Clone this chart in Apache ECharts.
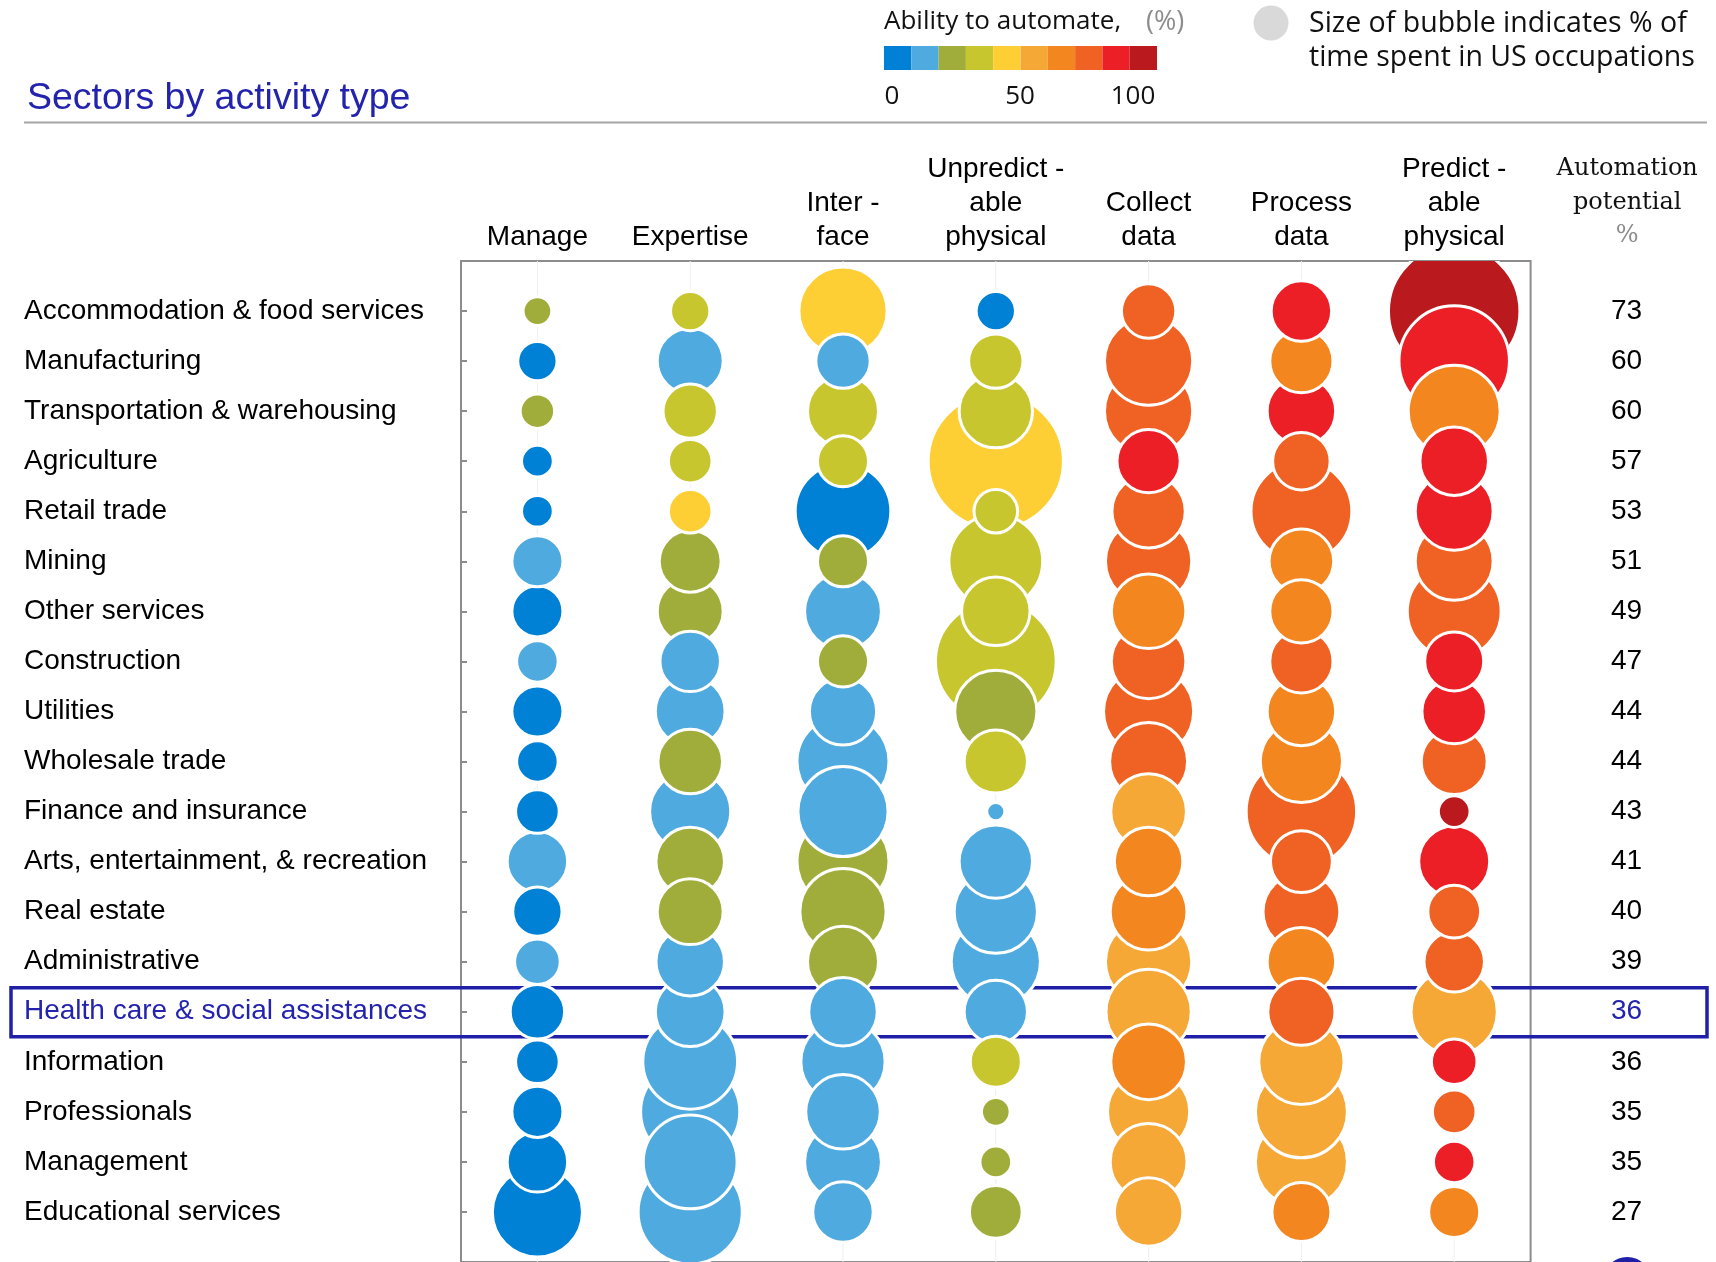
<!DOCTYPE html>
<html>
<head>
<meta charset="utf-8">
<title>Sectors by activity type</title>
<script src="https://cdn.jsdelivr.net/npm/echarts@6/dist/echarts.min.js"></script>
<style>
  html, body { margin: 0; padding: 0; background: #ffffff; }
  #chart { width: 1716px; height: 1262px; }
</style>
</head>
<body>
<div id="chart"></div>
<script>
// Sectors (rows, top to bottom)
const sectors = [
  'Accommodation & food services', 'Manufacturing', 'Transportation & warehousing',
  'Agriculture', 'Retail trade', 'Mining', 'Other services', 'Construction',
  'Utilities', 'Wholesale trade', 'Finance and insurance',
  'Arts, entertainment, & recreation', 'Real estate', 'Administrative',
  'Health care & social assistances', 'Information', 'Professionals',
  'Management', 'Educational services'
];
const highlightedSector = 'Health care & social assistances';

// Activity types (columns)
const activities = [
  'Manage', 'Expertise', 'Inter -\nface', 'Unpredict -\nable\nphysical',
  'Collect\ndata', 'Process\ndata', 'Predict -\nable\nphysical'
];

// Automation potential per sector, %
const automationPotential = [73, 60, 60, 57, 53, 51, 49, 47, 44, 44, 43, 41, 40, 39, 36, 36, 35, 35, 27];

// Share of time spent on each activity, % (bubble area)
const timeManage        = [2, 4, 3, 2.5, 2.5, 7, 7, 4.5, 7, 4.5, 5, 10, 6.5, 5.5, 8, 5, 7, 10, 23];
const timeExpertise     = [4, 12, 8, 5, 5, 10.5, 12, 10, 13.5, 11.5, 18.5, 13, 12, 13, 13.5, 25.5, 28, 25, 31];
const timeInterface     = [22, 8, 14, 7, 26, 7, 16.5, 7, 12.5, 24, 23, 24, 21, 14, 13, 20, 15.5, 16.5, 10];
const timeUnpredictable = [4, 8, 15, 53, 5, 25, 13, 42, 19, 11, 0.7, 15, 19.5, 22.5, 11, 7, 2, 2.5, 7.5];
const timeCollect       = [8, 22, 22, 11, 15, 21, 15.5, 15.5, 23, 17, 16, 13, 16.5, 21, 20.5, 16, 19, 16.5, 13];
const timeProcess       = [10, 11, 13, 9, 29, 11.5, 11, 11, 13, 19, 35, 10.5, 16.5, 13, 12.5, 20.5, 24, 24, 9.5];
const timePredictable   = [50, 35, 24, 13, 17, 17, 25, 9.5, 11.5, 12, 2.5, 14, 7.5, 10, 21, 5.5, 5, 4.5, 7];

// Ability to automate each activity, % (bubble colour)
const autoManage        = [25, 5, 25, 5, 5, 15, 5, 15, 5, 5, 5, 15, 5, 15, 5, 5, 5, 5, 5];
const autoExpertise     = [35, 15, 35, 35, 45, 25, 25, 15, 15, 25, 15, 25, 25, 15, 15, 15, 15, 15, 15];
const autoInterface     = [45, 15, 35, 35, 5, 25, 15, 25, 15, 15, 15, 25, 25, 25, 15, 15, 15, 15, 15];
const autoUnpredictable = [5, 35, 35, 45, 35, 35, 35, 35, 25, 35, 15, 15, 15, 15, 15, 35, 25, 25, 25];
const autoCollect       = [75, 75, 75, 85, 75, 75, 65, 75, 75, 75, 55, 65, 65, 55, 55, 65, 55, 55, 55];
const autoProcess       = [85, 65, 85, 75, 75, 65, 65, 75, 65, 65, 75, 75, 75, 65, 75, 55, 55, 55, 65];
const autoPredictable   = [95, 85, 65, 85, 85, 75, 75, 85, 85, 75, 95, 85, 75, 75, 55, 85, 75, 85, 65];

// Colour scale for ability to automate (10 bands of 10 %)
const bandColors = ['#0081d6', '#4faae0', '#a1ad3a', '#c8c62e', '#fdcf35',
                    '#f5a836', '#f48620', '#f06224', '#ec1f27', '#ba191e'];
const scaleTicks = [0, 50, 100];

const timeColumns = [timeManage, timeExpertise, timeInterface, timeUnpredictable,
                     timeCollect, timeProcess, timePredictable];
const autoColumns = [autoManage, autoExpertise, autoInterface, autoUnpredictable,
                     autoCollect, autoProcess, autoPredictable];

const BLUE = '#2323ad';
const AREA_PER_PCT = 330;   // px^2 of bubble area per % of time
const RING = 3;             // white outline width

// [column, row, time share, ability]; larger bubbles first so smaller ones sit on top
const cells = [];
sectors.forEach((s, i) => {
  timeColumns.forEach((col, j) => {
    cells.push([j, i + 1, col[i], autoColumns[j][i]]);
  });
});
cells.sort((a, b) => (b[2] - a[2]) || (b[1] - a[1]));

const paddedRows = [''].concat(sectors, ['']);
const hiIndex = sectors.indexOf(highlightedSector) + 1;

const chart = echarts.init(document.getElementById('chart'));

const pieces = bandColors.map((c, i) =>
  i < bandColors.length - 1 ? { gte: i * 10, lt: (i + 1) * 10, color: c }
                            : { gte: i * 10, lte: 100, color: c });

chart.setOption({
  animation: false,
  backgroundColor: '#ffffff',
  textStyle: { fontFamily: 'Liberation Sans' },
  grid: {
    left: 461, top: 261, width: 1069.6, height: 1004,
    show: true, borderColor: '#8c8c8c', borderWidth: 2, backgroundColor: 'transparent'
  },
  xAxis: {
    type: 'category',
    data: activities,
    position: 'top',
    boundaryGap: true,
    axisLine: { show: false },
    axisTick: { show: false },
    splitLine: { show: false },
    axisLabel: {
      interval: 0, margin: 7, fontSize: 28, lineHeight: 34,
      color: '#000', fontFamily: 'Liberation Sans', verticalAlign: 'bottom'
    }
  },
  yAxis: [
    {
      type: 'category',
      data: paddedRows,
      inverse: true,
      boundaryGap: false,
      axisLine: { show: false },
      splitLine: { show: false },
      axisTick: {
        show: true, inside: true, length: 6,
        interval: (idx) => idx > 0 && idx <= sectors.length,
        lineStyle: { color: '#8c8c8c', width: 2 }
      },
      axisLabel: {
        interval: 0, align: 'left', margin: 437, fontSize: 28,
        color: '#000', fontFamily: 'Liberation Sans',
        formatter: (v) => v === highlightedSector ? '{hl|' + v + '}' : v,
        rich: { hl: { color: BLUE, fontSize: 28, fontFamily: 'Liberation Sans' } }
      }
    },
    {
      type: 'category',
      data: paddedRows,
      inverse: true,
      boundaryGap: false,
      position: 'right',
      axisLine: { show: false },
      axisTick: { show: false },
      splitLine: { show: false },
      axisLabel: {
        interval: 0, align: 'center', margin: 96, fontSize: 28,
        color: '#000', fontFamily: 'Liberation Sans',
        formatter: (v, idx) => {
          if (idx < 1 || idx > sectors.length) return '';
          const t = String(automationPotential[idx - 1]);
          return idx === hiIndex ? '{hl|' + t + '}' : t;
        },
        rich: { hl: { color: BLUE, fontSize: 28, fontFamily: 'Liberation Sans' } }
      }
    }
  ],
  visualMap: {
    type: 'piecewise',
    seriesIndex: 1,
    dimension: 3,
    pieces: pieces,
    orient: 'horizontal',
    left: 884, top: 46,
    itemWidth: 27.3, itemHeight: 24, itemGap: 0,
    itemSymbol: 'rect',
    showLabel: false,
    selectedMode: false,
    hoverLink: false,
    padding: 0
  },
  series: [
    {
      // faint guide line through each activity column
      type: 'custom',
      coordinateSystem: 'cartesian2d',
      silent: true,
      clip: true,
      data: activities.map((a, j) => [j, 0]),
      encode: { x: 0, y: 1 },
      renderItem: (params, api) => {
        const x = api.coord([api.value(0), 0])[0];
        const cs = params.coordSys;
        return {
          type: 'line',
          shape: { x1: x, y1: cs.y, x2: x, y2: cs.y + cs.height },
          style: { stroke: '#efefef', lineWidth: 1 }
        };
      }
    },
    {
      type: 'custom',
      coordinateSystem: 'cartesian2d',
      clip: true,
      data: cells,
      encode: { x: 0, y: 1 },
      renderItem: (params, api) => {
        const p = api.coord([api.value(0), api.value(1)]);
        const r = Math.sqrt(api.value(2) * AREA_PER_PCT) / 2 + RING / 2;
        return {
          type: 'circle',
          shape: { cx: p[0], cy: p[1], r: r },
          style: { fill: api.visual('color'), stroke: '#ffffff', lineWidth: RING }
        };
      }
    }
  ]
});

// Header, legend and highlight annotations
function txt(text, x, y, font, fill, align) {
  return {
    type: 'text', silent: true,
    style: {
      text: text, x: x, y: y, font: font, fill: fill,
      textAlign: align || 'left', textVerticalAlign: 'middle',
      align: align || 'left', verticalAlign: 'middle'
    }
  };
}

const hiY = chart.convertToPixel({ yAxisIndex: 0 }, hiIndex);
const potX = chart.convertToPixel({ xAxisIndex: 0 }, activities.length - 1) + 173;
const LEGEND_FONT = '26px "Open Sans"';

const graphics = [
  txt('Sectors by activity type', 27, 99, '37.5px "Liberation Sans"', BLUE),
  {
    type: 'line', silent: true,
    shape: { x1: 24, y1: 122.5, x2: 1707, y2: 122.5 },
    style: { stroke: '#a6a6a6', lineWidth: 2 }
  },
  txt('Ability to automate,', 884, 22, LEGEND_FONT, '#111'),
  txt('(%)', 1146, 22, '27px "Open Sans"', '#8c8c8c'),
  {
    type: 'circle', silent: true,
    shape: { cx: 1271, cy: 23, r: 17.5 },
    style: { fill: '#d9d9d9' }
  },
  txt('Size of bubble indicates % of', 1309, 24, '28.5px "Open Sans"', '#111'),
  txt('time spent in US occupations', 1309, 58, '28.5px "Open Sans"', '#111'),
  txt('Automation', potX, 169, '24px "DejaVu Serif"', '#111', 'center'),
  txt('potential', potX, 203, '24px "DejaVu Serif"', '#111', 'center'),
  txt('%', potX, 236, '24px "DejaVu Serif"', '#8c8c8c', 'center'),
  {
    type: 'rect', silent: true,
    shape: { x: 11, y: hiY - 24, width: 1696, height: 49 },
    style: { fill: 'none', stroke: '#1f1fa8', lineWidth: 3.5 }
  },
  {
    type: 'circle', silent: true,
    shape: { cx: potX, cy: 1281, r: 24 },
    style: { fill: '#1f1fa8' }
  }
];
scaleTicks.forEach((t, k) => {
  const x = [892, 1020, 1133][k];
  graphics.push(txt(String(t), x, 97, LEGEND_FONT, '#111', 'center'));
});

chart.setOption({ graphic: { elements: graphics } });
</script>
</body>
</html>
